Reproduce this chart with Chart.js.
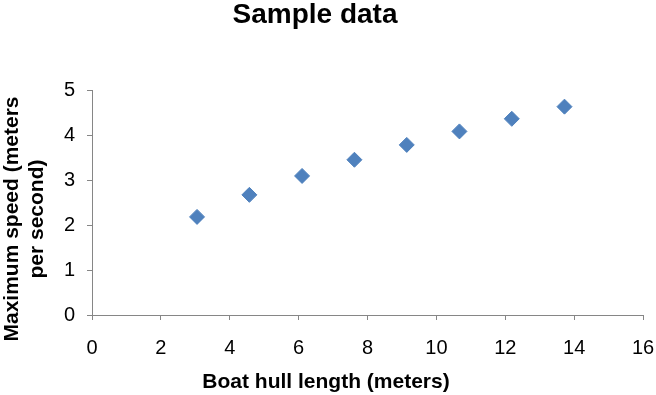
<!DOCTYPE html>
<html>
<head>
<meta charset="utf-8">
<script src="https://cdn.jsdelivr.net/npm/chart.js@4.4.0/dist/chart.umd.min.js"></script>
<style>
  html, body { margin: 0; padding: 0; background: #fff; }
  #wrap { width: 656px; height: 395px; position: relative; }
</style>
</head>
<body>
<div id="wrap"><canvas id="chart"></canvas></div>
<script>
// Data
const hullLength = [3.05, 4.57, 6.10, 7.62, 9.14, 10.67, 12.19, 13.72];
const maxSpeed = [2.18, 2.67, 3.09, 3.45, 3.78, 4.08, 4.36, 4.63];

const chartTitle = 'Sample data';
const xTitle = 'Boat hull length (meters)';
const yTitle = ['Maximum speed (meters', 'per second)'];

const FONT = '"Liberation Sans", Arial, Helvetica, sans-serif';
const AXIS_GREY = '#868686';

// Excel-style titles: centred on the canvas rather than the plot area
const titlesPlugin = {
    id: 'excelTitles',
    afterDraw(chart) {
        const ctx = chart.ctx;
        ctx.save();
        ctx.fillStyle = '#000';
        ctx.textAlign = 'center';
        ctx.textBaseline = 'middle';

        ctx.font = 'bold 28px ' + FONT;
        ctx.fillText(chartTitle, 315, 15);

        ctx.font = 'bold 21px ' + FONT;
        ctx.fillText(xTitle, 326, 382);

        ctx.translate(0, 219);
        ctx.rotate(-Math.PI / 2);
        ctx.fillText(yTitle[0], 0, 12);
        ctx.fillText(yTitle[1], 0, 37);
        ctx.restore();
    }
};

const points = hullLength.map((x, i) => ({ x: x, y: maxSpeed[i] }));

new Chart(document.getElementById('chart'), {
    type: 'scatter',
    data: {
        datasets: [{
            label: 'Sample data',
            data: points,
            pointStyle: 'rectRot',
            pointRadius: 7.5,
            pointHoverRadius: 7.5,
            backgroundColor: '#4F81BD',
            borderColor: '#4F81BD',
            borderWidth: 1
        }]
    },
    options: {
        responsive: true,
        maintainAspectRatio: false,
        animation: false,
        layout: { padding: { left: 40, right: 13, top: 90, bottom: 35 } },
        plugins: {
            legend: { display: false },
            title: { display: false },
            tooltip: { enabled: false }
        },
        scales: {
            x: {
                type: 'linear',
                min: 0,
                max: 16,
                afterFit: (scale) => {
                    scale.height = 45;
                    scale.paddingLeft = 0;
                    scale.paddingRight = 0;
                },
                ticks: { stepSize: 2, padding: 16, color: '#000', font: { family: FONT, size: 20 } },
                grid: { drawOnChartArea: false, tickLength: 5, color: AXIS_GREY },
                border: { display: true, color: AXIS_GREY, width: 1 }
            },
            y: {
                type: 'linear',
                min: 0,
                max: 5,
                afterFit: (scale) => {
                    scale.width = 52;
                    scale.paddingTop = 0;
                    scale.paddingBottom = 0;
                },
                ticks: { stepSize: 1, padding: 12, color: '#000', font: { family: FONT, size: 20 } },
                grid: { drawOnChartArea: false, tickLength: 5, color: AXIS_GREY },
                border: { display: true, color: AXIS_GREY, width: 1 }
            }
        }
    },
    plugins: [titlesPlugin]
});
</script>
</body>
</html>
